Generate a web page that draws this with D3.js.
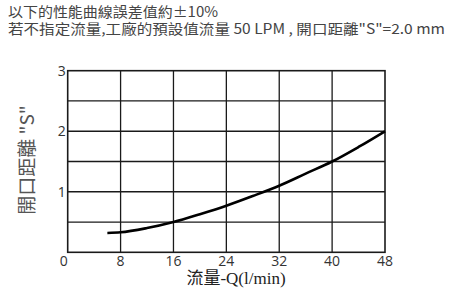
<!DOCTYPE html>
<html>
<head>
<meta charset="utf-8">
<script src="https://cdn.jsdelivr.net/npm/d3@7"></script>
<style>
  body { margin: 0; background: #fff; }
  svg { display: block; }
</style>
</head>
<body>
<svg id="chart" width="450" height="297"></svg>
<script>
// note lines on top
var notes = ["以下的性能曲線誤差值約±10%", "若不指定流量,工廠的預設值流量 50 LPM , 開口距離\"S\"=2.0 mm"];
// flow Q (l/min) vs opening S
var flow = [6, 8, 12, 16, 20, 24, 28, 32, 36, 40, 44, 48];
var opening = [0.32, 0.33, 0.4, 0.5, 0.63, 0.77, 0.93, 1.1, 1.3, 1.5, 1.74, 2.0];
var xTicks = [0, 8, 16, 24, 32, 40, 48];
var yTicks = [0, 1, 2, 3];
var yGrid = [0.5, 1, 1.5, 2, 2.5];
var xTitle = "流量-Q(l/min)";
var yTitle = "開口距離 \"S\"";

var svg = d3.select("#chart");
var plotL = 67.7, plotR = 385, plotT = 70.7, plotB = 252.3;

var x = d3.scaleLinear().domain([0, 48]).range([plotL, plotR]);
var y = d3.scaleLinear().domain([0, 3]).range([plotB, plotT]);

var noteLen = [210, 437];
svg.selectAll("text.note")
  .data(notes)
  .enter().append("text")
  .attr("class", "note")
  .attr("x", 8)
  .attr("y", function(d, i) { return 17 + i * 17; })
  .attr("font-family", "'Noto Sans CJK TC', 'Noto Sans', sans-serif")
  .attr("font-size", 14)
  .attr("textLength", function(d, i) { return noteLen[i]; })
  .attr("lengthAdjust", "spacingAndGlyphs")
  .attr("fill", "#444")
  .text(function(d) { return d; });

// grid
svg.selectAll("line.vg")
  .data(xTicks.slice(1, -1))
  .enter().append("line")
  .attr("x1", function(d) { return x(d); })
  .attr("x2", function(d) { return x(d); })
  .attr("y1", plotT).attr("y2", plotB)
  .attr("stroke", "#1a1a1a").attr("stroke-width", 1.3);

svg.selectAll("line.hg")
  .data(yGrid)
  .enter().append("line")
  .attr("y1", function(d) { return y(d); })
  .attr("y2", function(d) { return y(d); })
  .attr("x1", plotL).attr("x2", plotR)
  .attr("stroke", "#1a1a1a").attr("stroke-width", 1.3);

svg.append("rect")
  .attr("x", plotL).attr("y", plotT)
  .attr("width", plotR - plotL).attr("height", plotB - plotT)
  .attr("fill", "none").attr("stroke", "#1a1a1a").attr("stroke-width", 1.6);

// tick labels
svg.selectAll("text.xt")
  .data(xTicks)
  .enter().append("text")
  .attr("x", function(d) { return d == 0 ? x(d) - 4 : x(d); })
  .attr("y", 266)
  .attr("text-anchor", "middle")
  .attr("font-family", "'Open Sans', sans-serif")
  .attr("font-size", 14)
  .attr("fill", "#333")
  .text(function(d) { return d; });

svg.selectAll("text.yt")
  .data(yTicks.slice(1))
  .enter().append("text")
  .attr("x", plotL - 2)
  .attr("y", function(d) { return y(d) + 5; })
  .attr("text-anchor", "end")
  .attr("font-family", "'Open Sans', sans-serif")
  .attr("font-size", 14)
  .attr("fill", "#333")
  .text(function(d) { return d; });

// curve
var line = d3.line()
  .x(function(d, i) { return x(flow[i]); })
  .y(function(d) { return y(d); })
  .curve(d3.curveMonotoneX);

svg.append("path")
  .attr("d", line(opening))
  .attr("fill", "none")
  .attr("stroke", "#000")
  .attr("stroke-width", 2.6);

// titles
svg.append("text")
  .attr("x", 236).attr("y", 284)
  .attr("text-anchor", "middle")
  .attr("font-family", "'Liberation Serif', 'Noto Sans CJK TC', serif")
  .attr("font-size", 17)
  .attr("fill", "#222")
  .text(xTitle);

svg.append("text")
  .attr("transform", "translate(34,160) rotate(-90)")
  .attr("text-anchor", "middle")
  .attr("font-family", "'Noto Sans CJK TC', sans-serif")
  .attr("font-size", 19)
  .attr("fill", "#555")
  .text(yTitle);
</script>
</body>
</html>
